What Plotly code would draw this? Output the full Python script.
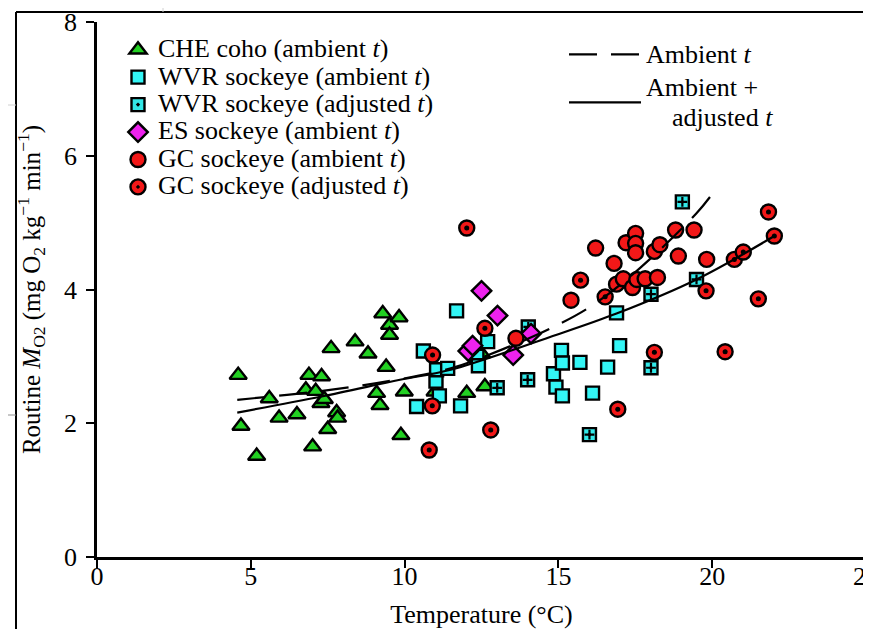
import plotly.graph_objects as go

# ---- data ----
che_t = [4.59, 4.68, 5.19, 5.60, 5.92, 6.50, 6.79, 6.89, 7.01, 7.11, 7.28, 7.30, 7.39, 7.50, 7.61, 7.79,
         7.82, 8.39, 8.81, 9.09, 9.20, 9.29, 9.40, 9.51, 9.51, 9.82, 9.88, 9.99, 10.99, 12.02, 12.61, 12.50]
che_v = [2.72, 1.96, 1.51, 2.37, 2.08, 2.13, 2.50, 2.72, 1.65, 2.48, 2.30, 2.70, 2.36, 1.91, 3.12, 2.16,
         2.08, 3.22, 3.04, 2.45, 2.27, 3.64, 2.84, 3.47, 3.32, 3.58, 1.82, 2.47, 2.47, 2.45, 2.55, 3.04]

wvr_amb_t = [10.39, 10.61, 11.02, 11.04, 11.13, 11.40, 11.69, 11.82, 12.35, 12.40, 12.70, 14.84, 14.92,
             15.10, 15.13, 15.13, 15.70, 16.11, 16.60, 16.89, 16.99]
wvr_amb_v = [2.25, 3.08, 2.63, 2.80, 2.41, 2.82, 3.68, 2.26, 3.00, 2.86, 3.22, 2.74, 2.54,
             3.09, 2.90, 2.41, 2.91, 2.45, 2.84, 3.65, 3.16]

wvr_adj_t = [13.01, 14.00, 14.02, 16.01, 18.01, 18.01, 19.03, 19.49]
wvr_adj_v = [2.53, 2.65, 3.44, 1.83, 3.93, 2.83, 5.31, 4.15]

es_t = [12.07, 12.21, 12.50, 13.02, 13.53, 14.11]
es_v = [3.08, 3.16, 3.98, 3.61, 3.02, 3.34]

gc_amb_t = [13.62, 15.41, 16.21, 16.81, 16.89, 17.11, 17.20, 17.41, 17.51, 17.51, 17.51, 17.55, 17.82,
            18.12, 18.22, 18.30, 18.81, 18.90, 19.41, 19.82]
gc_amb_v = [3.27, 3.84, 4.62, 4.39, 4.08, 4.16, 4.70, 4.03, 4.84, 4.69, 4.55, 4.15, 4.16,
            4.57, 4.18, 4.67, 4.89, 4.50, 4.89, 4.45]

gc_adj_t = [10.80, 10.90, 10.91, 12.02, 12.61, 12.80, 15.72, 16.52, 16.93, 18.12, 19.80, 20.42, 20.72,
            21.01, 21.50, 21.83, 22.02]
gc_adj_v = [1.60, 2.26, 3.02, 4.92, 3.42, 1.90, 4.14, 3.89, 2.21, 3.06, 3.98, 3.07, 4.45,
            4.56, 3.86, 5.16, 4.80]

amb_fit_t = [4.56, 7.25, 9.09, 11.5, 13.1, 14.8, 16.13, 17.65, 19.49, 20.02]
amb_fit_v = [2.35, 2.48, 2.60, 2.82, 3.09, 3.43, 3.77, 4.32, 5.14, 5.44]
all_fit_t = [4.56, 7.3, 9.85, 11.5, 14.73, 16.89, 19.49, 22.02]
all_fit_v = [2.16, 2.40, 2.65, 2.80, 3.29, 3.64, 4.15, 4.80]

x_ticks = [0, 5, 10, 15, 20, 25]
y_ticks = [0, 2, 4, 6, 8]

names = ["CHE coho (ambient <i>t</i>)", "WVR sockeye (ambient <i>t</i>)", "WVR sockeye (adjusted <i>t</i>)",
         "ES sockeye (ambient <i>t</i>)", "GC sockeye (ambient <i>t</i>)", "GC sockeye (adjusted <i>t</i>)"]

# ---- styling ----
FONT = "Liberation Serif, 'Times New Roman', Times, 'DejaVu Serif', serif"
W, H = 871, 629
OFF = 8  # page body margin offset
ML = 97 - OFF
MT = 22 - OFF
MR = W - (866 - OFF)
MB = H - (557 - OFF)
PW, PH = W - ML - MR, H - MT - MB

def px_x(p):
    return (p - OFF - ML) / PW

def px_y(p):
    return (H - MB - (p - OFF)) / PH

def lab(s):
    return '<span style="font-size:26px">' + s + '</span>'

fig = go.Figure()

series = [
    (che_t, che_v, "triangle-up", "#22d022", 15, None),
    (wvr_amb_t, wvr_amb_v, "square", "#33f5f5", 13, None),
    (wvr_adj_t, wvr_adj_v, "square-dot", "#33e8e8", 13, ("cross-thin", 7, 2.2)),
    (es_t, es_v, "diamond", "#ee22ee", 15, None),
    (gc_amb_t, gc_amb_v, "circle", "#f21818", 15, None),
    (gc_adj_t, gc_adj_v, "circle-dot", "#f21818", 15, ("circle", 5, 0)),
]
for (xs, ys, sym, col, sz, inner), nm in zip(series, names):
    fig.add_trace(go.Scatter(
        x=xs, y=ys, mode="markers", name=lab(nm), legend="legend",
        marker=dict(symbol=sym, color=col, size=sz, line=dict(color="black", width=2.4)),
    ))
    if inner:
        isym, isz, ilw = inner
        fig.add_trace(go.Scatter(
            x=xs, y=ys, mode="markers", showlegend=False, hoverinfo="skip",
            marker=dict(symbol=isym, color="black", size=isz, line=dict(color="black", width=ilw)),
        ))

fig.add_trace(go.Scatter(
    x=amb_fit_t, y=amb_fit_v, mode="lines", name=lab("Ambient <i>t</i>"), legend="legend2",
    line=dict(color="black", width=2.2, dash="28px,14px", shape="spline"),
))
fig.add_trace(go.Scatter(
    x=all_fit_t, y=all_fit_v, mode="lines",
    name=lab("Ambient +<br>\u00a0\u00a0\u00a0\u00a0adjusted <i>t</i>"), legend="legend2",
    line=dict(color="black", width=2.2, shape="spline"),
))

axis_common = dict(
    showline=True, linecolor="black", linewidth=2.5, ticks="outside", ticklen=8, tickwidth=2,
    tickcolor="black", showgrid=False, zeroline=False, mirror=False, automargin=False,
    tickfont=dict(family=FONT, size=26, color="black"),
)

def seg(xa, ya, xb, yb, color="black", width=2):
    return dict(type="line", xref="paper", yref="paper", x0=px_x(xa), x1=px_x(xb),
                y0=px_y(ya), y1=px_y(yb), line=dict(color=color, width=width), layer="above")

# page frame of the screenshot (left and top border)
shapes = [
    seg(16, 12, 16, 629),
    seg(16, 12, 871, 12),
    seg(163, 8, 163, 12, "#d0d0d0", 1),
    seg(8, 105, 16, 105, "#d0d0d0", 1),
    seg(8, 415, 16, 415, "#909090", 1),
]

fig.update_layout(
    width=W, height=H, autosize=False,
    margin=dict(l=ML, r=MR, t=MT, b=MB),
    paper_bgcolor="white", plot_bgcolor="white",
    font=dict(family=FONT, color="black", size=26),
    xaxis=dict(range=[0, 25], tickvals=x_ticks, **axis_common, ticklabelstandoff=-14,
               title=dict(text="Temperature (°C)", font=dict(family=FONT, size=26), standoff=15)),
    yaxis=dict(range=[0, 8], tickvals=y_ticks, **axis_common, ticklabelstandoff=4,
               title=dict(text="Routine <i>M</i><sub>O2</sub> (mg O<sub>2</sub> kg<sup>−1</sup> min<sup>−1</sup>)",
                          font=dict(family=FONT, size=25), standoff=17)),
    legend=dict(x=px_x(118), y=px_y(31), xanchor="left", yanchor="top",
                font=dict(family=FONT, size=18.8, color="black"), bgcolor="rgba(0,0,0,0)",
                borderwidth=0, itemsizing="trace", tracegroupgap=0),
    legend2=dict(x=px_x(564), y=px_y(33), xanchor="left", yanchor="top",
                 font=dict(family=FONT, size=23, color="black"), bgcolor="rgba(0,0,0,0)",
                 borderwidth=0, itemwidth=72),
    shapes=shapes,
    showlegend=True,
)

fig.write_html("out.html")
